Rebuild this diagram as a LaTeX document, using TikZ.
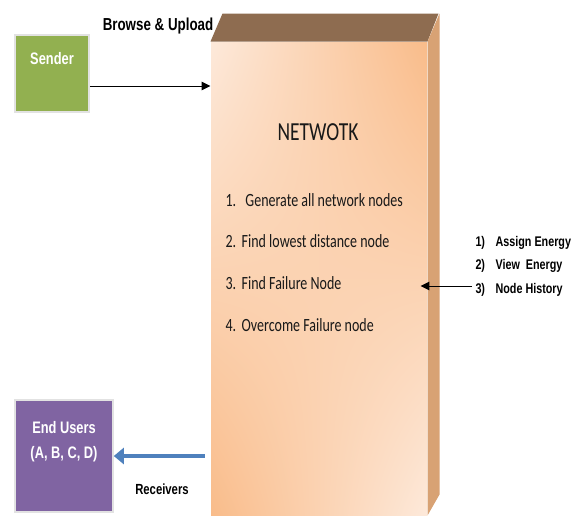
\documentclass[tikz,border=0pt]{standalone}
\usepackage{fontspec}
\setmainfont{Carlito}
\newfontfamily\arialn[FakeStretch=0.77]{Liberation Sans}
\newfontfamily\calibrin[FakeStretch=0.75]{Carlito}
\usetikzlibrary{arrows.meta,shadings}

\definecolor{sendgreen}{RGB}{146,176,80}
\definecolor{userpurple}{RGB}{128,100,162}
\definecolor{recvblue}{RGB}{79,129,189}
\definecolor{peachlight}{RGB}{253,233,218}
\definecolor{peachdark}{RGB}{249,188,138}
\definecolor{boxtop}{RGB}{142,108,80}
\definecolor{boxside}{RGB}{216,162,116}
\definecolor{edgegrey}{RGB}{226,226,226}

\tikzset{every picture/.style={line width=0.75pt}}
\tikzset{
	userbox/.style={rectangle, draw=edgegrey, line width=1.2pt, inner sep=0pt},
	boxtext/.style={anchor=center, inner sep=0.75pt, text=white, font=\arialn\bfseries},
	lbl/.style={inner sep=0.75pt, font=\arialn\bfseries},
	item/.style={anchor=west, inner sep=0.75pt, font=\calibrin\fontsize{14}{16}\selectfont, text={rgb,255:red,25;green,25;blue,25}},
	flow/.style={-{Triangle[length=6.7pt,width=6.4pt]}},
	recv/.style={-{Triangle[length=7.5pt,width=12pt]}, draw=recvblue, line width=3.4pt}
}

\begin{document}
\begin{tikzpicture}[x=0.75pt,y=0.75pt,yscale=-1,xscale=1]
	\useasboundingbox (0,0) rectangle (572,519);
	
	%Shape: Box front [id:network]
	\node [rectangle, minimum width=162pt, minimum height=354.75pt, inner sep=0pt, shade,
		upper left=peachlight, upper right=peachdark, lower left=peachdark, lower right=peachlight] (net) at (319,278.5) {};
	%Shape: Box top
	\fill [boxtop] (net.north west) -- ++(12,-28) -- ++(216,0) -- (net.north east) -- cycle ;
	%Shape: Box side
	\fill [boxside] (net.north east) -- ++(12,-28) -- ++(0,481) -- (net.south east) -- cycle ;
	
	%Shape: Rectangle [id:sender]
	\node [userbox, fill=sendgreen, minimum width=55.5pt, minimum height=57.75pt] (sender) at (52,73.5) {};
	%Shape: Rectangle [id:endusers]
	\node [userbox, fill=userpurple, minimum width=73.5pt, minimum height=84pt] (endusers) at (64,456) {};
	
	%Straight Lines [id:upload]
	\coordinate (upl) at (150,86);
	\draw [flow] (sender.east |- upl) -- (net.west |- upl) ;
	%Straight Lines [id:energy]
	\coordinate (entail) at (472,286);
	\draw [flow] (entail) -- ([xshift=-5.25pt]net.east |- entail) ;
	%Straight Lines [id:receivers]
	\draw [recv] ([xshift=-4.5pt]net.west |- endusers) -- (endusers.east) ;
	
	% Text Node
	\node [boxtext, font=\arialn\bfseries\fontsize{12.5}{14}\selectfont] (sendtxt) at (52,59) {Sender};
	% Text Node
	\node [boxtext, font=\arialn\bfseries\fontsize{12.5}{14}\selectfont, align=center] (usertxt) at (64,442) {End Users\\[5pt](A, B, C, D)};
	% Text Node
	\node [lbl, font=\arialn\bfseries\fontsize{13}{15}\selectfont] (uptxt) at (158,26) {Browse \& Upload};
	% Text Node
	\node [lbl, font=\arialn\bfseries\fontsize{11}{13}\selectfont] (recvtxt) at (162,489) {Receivers};
	% Text Node
	\node [anchor=center, inner sep=0.75pt, font=\calibrin\fontsize{19.5}{22}\selectfont, text={rgb,255:red,25;green,25;blue,25}] (nettitle) at (318,132) {NETWOTK};
	% Text Node
	\node [item] (it1) at (224,200) {1.\hspace{0.5em}Generate all network nodes};
	\node [item] (it2) at (224,241) {2.\hspace{0.3em}Find lowest distance node};
	\node [item] (it3) at (224,283) {3.\hspace{0.3em}Find Failure Node};
	\node [item] (it4) at (224,325) {4.\hspace{0.3em}Overcome Failure node};
	% Text Node
	\node [lbl, anchor=west, font=\arialn\bfseries\fontsize{10.5}{12}\selectfont] (en1) at (474,243) {1)\hspace{0.75em}Assign Energy};
	\node [lbl, anchor=west, font=\arialn\bfseries\fontsize{10.5}{12}\selectfont] (en2) at (474,266) {2)\hspace{0.75em}View\ \ Energy};
	\node [lbl, anchor=west, font=\arialn\bfseries\fontsize{10.5}{12}\selectfont] (en3) at (474,290) {3)\hspace{0.75em}Node History};
	
\end{tikzpicture}
\end{document}
